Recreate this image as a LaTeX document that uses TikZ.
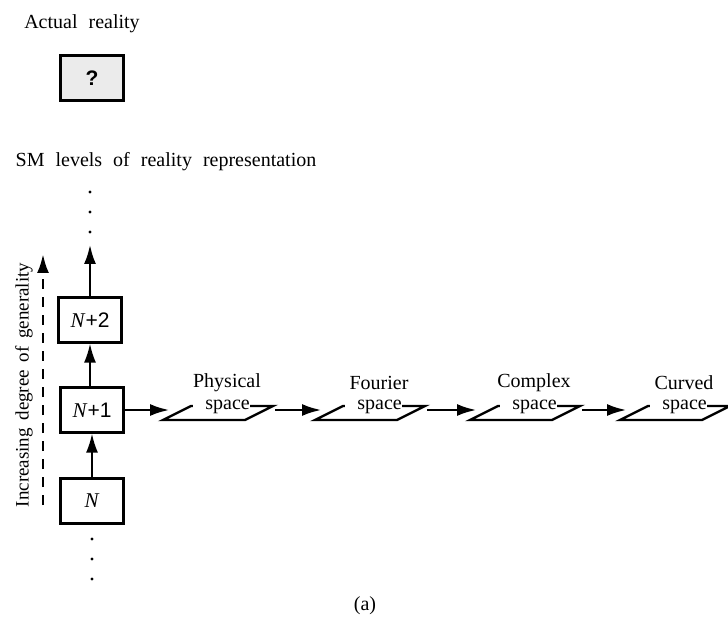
\documentclass[tikz,border=0pt]{standalone}
\usepackage{fontspec}
\setmainfont{Liberation Serif}[WordSpace=2.2]
\newfontfamily\uprightfont{Liberation Serif}[WordSpace=1.6]
\newfontfamily\sansfont{Liberation Sans}
\usetikzlibrary{arrows.meta,positioning}

\tikzset{
  title/.style={inner sep=0pt,font=\fontsize{20}{22}\selectfont},
  qbox/.style={draw,line width=2.3pt,fill=black!8,minimum width=63pt,minimum height=45pt,
    inner sep=0pt,font=\fontsize{21}{23}\sansfont\bfseries},
  level/.style={draw,line width=2.3pt,minimum width=63pt,minimum height=45pt,inner sep=0pt,
    font=\fontsize{21}{23}\selectfont},
  up/.style={-{Latex[length=19pt,width=12pt]},line width=2pt},
  plane/.style={line width=2.4pt,line join=miter},
  spc/.style={fill=white,inner xsep=0pt,inner ysep=1pt,anchor=east,
    font=\fontsize{20}{22}\selectfont},
  gen/.style={-{Latex[length=19pt,width=12pt]},line width=2.8pt,dash pattern=on 10pt off 8pt},
}

\begin{document}
\begin{tikzpicture}[x=1pt,y=-1pt]
  \useasboundingbox (0,0) rectangle (728,617);

  % Realidad actual
  \node[title] (actual) at (82,24) {Actual reality};
  \node[qbox] (real) at (92,78) {?};

  % Niveles SM
  \node[title] (sm) at (166,162) {SM levels of reality representation};
  \node[level] (n0) at (92,501) {\textit{N}};
  \node[level] (n1) at (92,410) {\textit{N}{\sansfont +1}};
  \node[level] (n2) at (90,320) {\textit{N}{\sansfont +2}};
  \coordinate (n3) at (90,245);
  \draw[up] (n0) -- (n1);
  \draw[up] (n1.north -| n2) -- (n2);
  \draw[up] (n2) -- (n3);

  % puntos suspensivos
  \foreach \y in {192,212,232} \fill (90,\y) circle (1.6pt);
  \foreach \y in {539,559,579} \fill (92,\y) circle (1.6pt);

  % Flecha de generalidad
  \coordinate (gen-lo) at (43,505);
  \coordinate (gen-hi) at (43,254);
  \draw[gen] (gen-lo) -- (gen-hi);
  \node[inner sep=0pt,rotate=90,font=\fontsize{19}{21}\uprightfont] (genlbl) at (24,385)
    {Increasing degree of generality};

  % Espacios
  \foreach \bx/\nm/\lbl in {163/phys/Physical,315/four/Fourier,470/comp/Complex,620/curv/Curved}{
    \draw[plane] (\bx,420) -- ++(82,0) -- ++(28,-14) -- ++(-82,0) -- cycle;
    \node[spc] (\nm-s) at (\bx+87,407) {\hspace*{12pt}space};
    \node[title] (\nm-l) at (\bx+64,383) {\lbl};
    \coordinate (\nm-in) at (\bx+6,410);
    \coordinate (\nm-out) at (\bx+112,410);
  }
  \draw[up] (n1) -- (phys-in);
  \draw[up] (phys-out) -- (four-in);
  \draw[up] (four-out) -- (comp-in);
  \draw[up] (comp-out) -- (curv-in);

  \node[title] (cap) at (365,606) {(a)};
\end{tikzpicture}
\end{document}
